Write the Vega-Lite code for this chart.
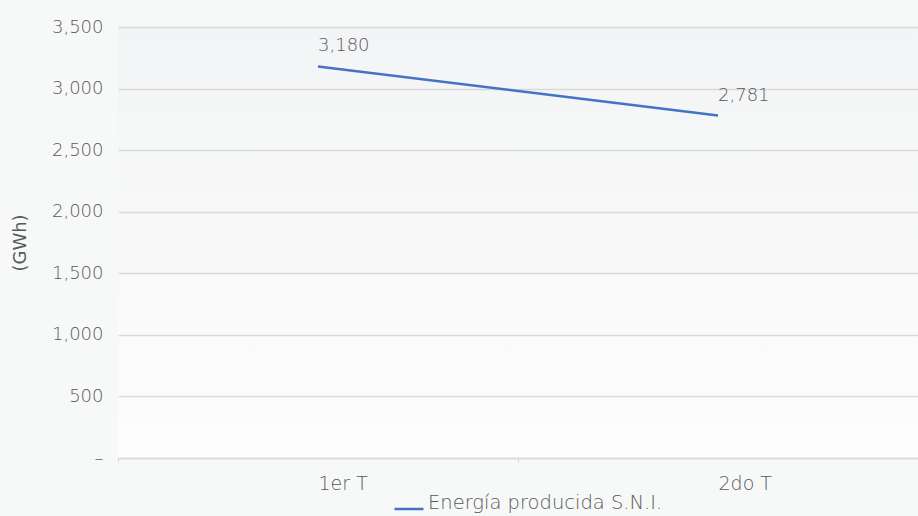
{
  "$schema": "https://vega.github.io/schema/vega-lite/v6.json",
  "width": 800,
  "height": 431,
  "autosize": {"type": "none"},
  "padding": {"left": 118, "top": 27, "right": 0, "bottom": 58},
  "background": "#f7f8f8",
  "config": {
    "view": {
      "stroke": null,
      "fill": {
        "gradient": "linear",
        "x1": 0, "y1": 0, "x2": 0, "y2": 1,
        "stops": [
          {"offset": 0, "color": "#f3f4f5"},
          {"offset": 1, "color": "#fdfdfd"}
        ]
      }
    },
    "font": "DejaVu Sans"
  },
  "data": {
    "values": [
      {"trimestre": "1er T", "energia": 3180, "serie": "Energía producida S.N.I."},
      {"trimestre": "2do T", "energia": 2781, "serie": "Energía producida S.N.I."}
    ]
  },
  "encoding": {
    "x": {
      "field": "trimestre",
      "type": "nominal",
      "sort": null,
      "scale": {"paddingInner": 0, "paddingOuter": 0},
      "axis": {
        "title": null,
        "labelAngle": 0,
        "labelAlign": "left",
        "labelFontSize": 19,
        "labelFontWeight": 200,
        "labelColor": "#595959",
        "labelPadding": 12,
        "domainColor": "#d9d9d9",
        "domainWidth": 1.5,
        "tickColor": "#d9d9d9",
        "tickSize": 4,
        "tickBand": "extent",
        "grid": false
      }
    },
    "y": {
      "field": "energia",
      "type": "quantitative",
      "scale": {"domain": [0, 3500], "nice": false},
      "axis": {
        "title": "(GWh)",
        "titleFontSize": 18,
        "titleFontWeight": 400,
        "titleColor": "#595959",
        "titlePadding": 22,
        "values": [0, 500, 1000, 1500, 2000, 2500, 3000, 3500],
        "labelExpr": "datum.value == 0 ? '–' : format(datum.value, ',')",
        "labelFontSize": 18,
        "labelFontWeight": 200,
        "labelColor": "#595959",
        "labelPadding": 15,
        "domain": false,
        "ticks": false,
        "gridColor": "#d9d9d9",
        "gridWidth": 1.5
      }
    }
  },
  "layer": [
    {
      "mark": {"type": "line", "strokeWidth": 2.5},
      "encoding": {
        "color": {
          "field": "serie",
          "type": "nominal",
          "scale": {"range": ["#4472C4"]},
          "legend": {
            "title": null,
            "orient": "none",
            "legendX": 275,
            "legendY": 466,
            "direction": "horizontal",
            "symbolType": "stroke",
            "symbolSize": 841,
            "symbolStrokeWidth": 2.5,
            "labelFontSize": 19.5,
            "labelFontWeight": 200,
            "labelColor": "#595959",
            "labelOffset": 3,
            "labelLimit": 0,
            "labelBaseline": "alphabetic"
          }
        }
      }
    },
    {
      "mark": {"type": "text", "align": "left", "baseline": "alphabetic", "dy": -15, "fontSize": 18, "fontWeight": 200, "color": "#595959"},
      "encoding": {
        "text": {"field": "energia", "type": "quantitative", "format": ","}
      }
    }
  ]
}
